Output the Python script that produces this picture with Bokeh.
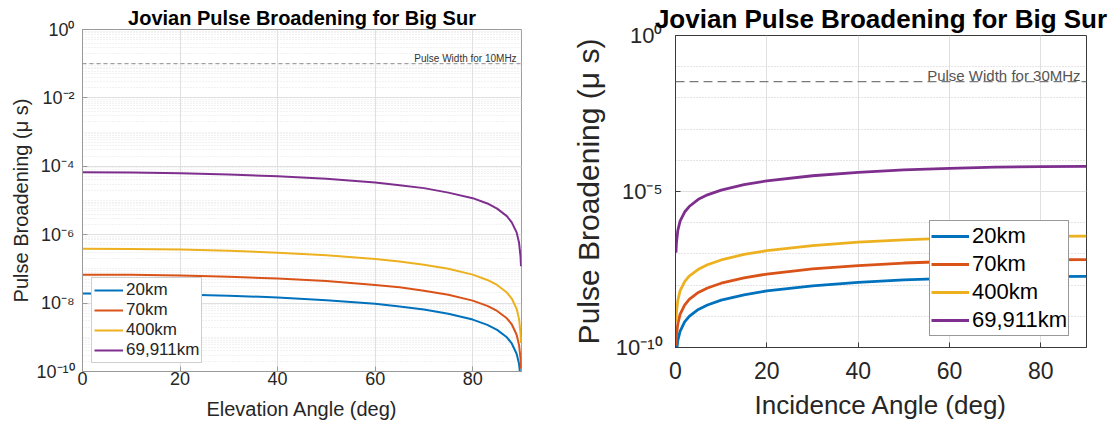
from bokeh.plotting import figure
from bokeh.layouts import row
from bokeh.models import Range1d, FixedTicker, CustomJSTickFormatter, Span, Label
from bokeh.embed import file_html
from bokeh.resources import INLINE

# ---------------- data ----------------
series_names = ["20km", "70km", "400km", "69,911km"]
series_colors = ["#0072BD", "#D95319", "#EDB120", "#7E2F8E"]

# Left panel: vs elevation angle
elev_deg = [0, 10, 20, 30, 40, 50, 60, 65, 70, 75, 80, 83, 85, 87, 88, 89, 89.5, 89.8, 89.9]
elev_20km = [1.9e-8, 1.87e-8, 1.79e-8, 1.65e-8, 1.46e-8, 1.22e-8, 9.5e-9, 8.0e-9, 6.5e-9, 4.9e-9,
             3.3e-9, 2.3e-9, 1.65e-9, 1.0e-9, 6.6e-10, 3.3e-10, 1.65e-10, 6.6e-11, 3.3e-11]
elev_70km = [6.8e-8, 6.7e-8, 6.4e-8, 5.9e-8, 5.2e-8, 4.4e-8, 3.4e-8, 2.9e-8, 2.3e-8, 1.76e-8,
             1.18e-8, 8.3e-9, 5.9e-9, 3.6e-9, 2.4e-9, 1.19e-9, 5.9e-10, 2.4e-10, 1.2e-10]
elev_400km = [3.9e-7, 3.84e-7, 3.67e-7, 3.38e-7, 2.99e-7, 2.5e-7, 1.95e-7, 1.65e-7, 1.33e-7, 1.01e-7,
              6.8e-8, 4.75e-8, 3.4e-8, 2.04e-8, 1.36e-8, 6.8e-9, 3.4e-9, 1.36e-9, 6.8e-10]
elev_69911km = [6.7e-5, 6.6e-5, 6.3e-5, 5.8e-5, 5.1e-5, 4.3e-5, 3.35e-5, 2.8e-5, 2.3e-5, 1.7e-5,
                1.17e-5, 8.2e-6, 5.8e-6, 3.5e-6, 2.3e-6, 1.17e-6, 5.8e-7, 2.3e-7, 1.2e-7]

# Right panel: vs incidence angle
inc_deg = [0.1, 0.2, 0.5, 1, 2, 3, 5, 7, 10, 15, 20, 30, 40, 50, 60, 70, 80, 90]
inc_20km = [3.3e-11, 6.6e-11, 1.66e-10, 3.3e-10, 6.6e-10, 9.9e-10, 1.66e-9, 2.3e-9, 3.3e-9, 4.9e-9,
            6.5e-9, 9.5e-9, 1.22e-8, 1.46e-8, 1.65e-8, 1.79e-8, 1.87e-8, 1.9e-8]
inc_70km = [1.15e-10, 2.3e-10, 5.7e-10, 1.15e-9, 2.3e-9, 3.5e-9, 5.8e-9, 8.1e-9, 1.15e-8, 1.7e-8,
            2.26e-8, 3.3e-8, 4.2e-8, 5.1e-8, 5.7e-8, 6.2e-8, 6.5e-8, 6.6e-8]
inc_400km = [6.5e-10, 1.29e-9, 3.2e-9, 6.5e-9, 1.29e-8, 1.94e-8, 3.2e-8, 4.5e-8, 6.4e-8, 9.6e-8,
             1.27e-7, 1.85e-7, 2.38e-7, 2.83e-7, 3.2e-7, 3.48e-7, 3.64e-7, 3.7e-7]
inc_69911km = [1.1e-7, 2.2e-7, 5.6e-7, 1.12e-6, 2.2e-6, 3.3e-6, 5.6e-6, 7.8e-6, 1.11e-5, 1.66e-5,
               2.19e-5, 3.2e-5, 4.1e-5, 4.9e-5, 5.5e-5, 6.0e-5, 6.3e-5, 6.4e-5]

pulse_width_left = 0.1        # 10 MHz
pulse_label_left = "Pulse Width for 10MHz"
pulse_width_right = 0.0333    # 30 MHz
pulse_label_right = "Pulse Width for 30MHz"

x_ticks = [0, 20, 40, 60, 80]
left_y_ticks = [1e0, 1e-2, 1e-4, 1e-6, 1e-8, 1e-10]
right_y_ticks = [1e0, 1e-5, 1e-10]

title_text = "Jovian Pulse Broadening for Big Sur"
ylabel_text = "Pulse Broadening (\u03bc s)"
left_xlabel = "Elevation Angle (deg)"
right_xlabel = "Incidence Angle (deg)"

FONT = "Liberation Sans"
TXT = "#262626"

sup_code = """
const sup = {'-':'\u207b','0':'\u2070','1':'\u00b9','2':'\u00b2','3':'\u00b3','4':'\u2074',
             '5':'\u2075','6':'\u2076','7':'\u2077','8':'\u2078','9':'\u2079'};
const e = Math.round(Math.log10(tick));
return '10' + String(e).split('').map(c => sup[c]).join('');
"""


def make_panel(fw, fh, bl, br, bt, bb, cfg, yticks, minor_y, xs, ys_list, xlabel):
    p = figure(width=fw + bl + br, height=fh + bt + bb, frame_width=fw, frame_height=fh,
               y_axis_type="log",
               x_range=Range1d(0, 90), y_range=Range1d(1e-10, 1),
               output_backend="svg", toolbar_location=None,
               min_border_left=bl, min_border_right=br, min_border_top=bt, min_border_bottom=bb)
    if "frame_align" in p.properties():
        p.frame_align = False
    p.title.text = title_text
    p.title.align = "center"
    p.title.text_font = FONT
    p.title.text_font_size = cfg["title"]
    p.title.text_font_style = "bold"
    p.title.text_color = "black"
    p.title.standoff = cfg["title_standoff"]

    yt = FixedTicker(ticks=yticks, minor_ticks=minor_y)
    p.yaxis.ticker = yt
    p.ygrid.ticker = yt
    p.xaxis.ticker = FixedTicker(ticks=x_ticks, minor_ticks=[])
    p.xgrid.ticker = FixedTicker(ticks=x_ticks, minor_ticks=[])
    p.yaxis.formatter = CustomJSTickFormatter(code=sup_code)

    for ax in (p.xaxis, p.yaxis):
        ax.axis_line_color = cfg["axis_color"]
        ax.major_tick_line_color = cfg["axis_color"]
        ax.major_tick_in = 5
        ax.major_tick_out = 0
        ax.minor_tick_line_color = None
        ax.major_label_text_font = FONT
        ax.major_label_text_color = TXT
        ax.axis_label_text_font = FONT
        ax.axis_label_text_font_style = "normal"
        ax.axis_label_text_color = TXT
    p.xaxis.major_label_text_font_size = cfg["xtick"]
    p.yaxis.major_label_text_font_size = cfg["ytick"]
    p.xaxis.axis_label_text_font_size = cfg["xlabel"]
    p.yaxis.axis_label_text_font_size = cfg["ylabel"]
    p.xaxis.axis_label = xlabel
    p.yaxis.axis_label = ylabel_text
    p.xaxis.major_label_standoff = cfg["xtick_standoff"]
    p.yaxis.major_label_standoff = cfg["ytick_standoff"]
    p.xaxis.axis_label_standoff = cfg["xlabel_standoff"]
    p.yaxis.axis_label_standoff = cfg["ylabel_standoff"]

    p.xgrid.grid_line_color = "#e0e0e0"
    p.ygrid.grid_line_color = "#e0e0e0"
    p.ygrid.minor_grid_line_color = cfg["minor_color"]
    p.ygrid.minor_grid_line_dash = "1 2"
    p.outline_line_color = cfg["axis_color"]
    p.background_fill_color = "white"

    for name, color, ys in zip(series_names, series_colors, ys_list):
        p.line(xs, ys, line_color=color, line_width=cfg["lw"], legend_label=name)
    return p


left_minor = [k * 10.0 ** n for n in range(-10, 0) for k in range(1, 10)
              if not (k == 1 and n % 2 == 0)]
right_minor = [10.0 ** n for n in range(-9, 0) if n != -5]

cfg1 = dict(title="20px", title_standoff=1, xtick="18px", ytick="18px", xlabel="20px", ylabel="20px",
            xtick_standoff=0, ytick_standoff=4, xlabel_standoff=10, ylabel_standoff=1,
            axis_color="#9a9a9a", minor_color="#e4e4e4", lw=2)
cfg2 = dict(title="26px", title_standoff=3, xtick="23px", ytick="22px", xlabel="26px", ylabel="30px",
            xtick_standoff=14, ytick_standoff=9, xlabel_standoff=8, ylabel_standoff=8,
            axis_color="#3a3a3a", minor_color="#c8c8c8", lw=2.8)

p1 = make_panel(439, 342, 82, 39, 29, 54, cfg1, left_y_ticks, left_minor, elev_deg,
                [elev_20km, elev_70km, elev_400km, elev_69911km], left_xlabel)
p2 = make_panel(411, 312, 115, 29, 35, 78, cfg2, right_y_ticks, right_minor, inc_deg,
                [inc_20km, inc_70km, inc_400km, inc_69911km], right_xlabel)

# pulse width reference lines
p1.add_layout(Span(location=pulse_width_left, dimension="width", line_color="#8c8c8c",
                   line_dash="4 3", line_width=1))
p1.add_layout(Label(x=89.0, y=pulse_width_left, text=pulse_label_left, text_align="right",
                    text_baseline="alphabetic", y_offset=5, text_font=FONT,
                    text_font_size="10px", text_color="#333333"))
p2.add_layout(Span(location=pulse_width_right, dimension="width", line_color="#7a7a7a",
                   line_dash="9 5", line_width=1.3))
p2.add_layout(Label(x=88.7, y=pulse_width_right, text=pulse_label_right, text_align="right",
                    text_baseline="alphabetic", y_offset=6, text_font=FONT,
                    text_font_size="15px", text_color="#555555"))

# legends
lg1 = p1.legend[0]
lg1.location = (9, 8)
lg1.label_text_font = FONT
lg1.label_text_font_size = "17px"
lg1.label_text_color = TXT
lg1.glyph_width = 29
lg1.glyph_height = 20
lg1.label_height = 20
lg1.label_standoff = 3
lg1.spacing = 0
lg1.padding = 2
lg1.margin = 0
lg1.border_line_color = "#a0a0a0"
lg1.background_fill_alpha = 1

lg2 = p2.legend[0]
lg2.location = (254, 11)
lg2.label_text_font = FONT
lg2.label_text_font_size = "22px"
lg2.label_text_color = "black"
lg2.glyph_width = 38
lg2.glyph_height = 28
lg2.label_height = 28
lg2.label_standoff = 3
lg2.spacing = 0
lg2.padding = 1
lg2.margin = 0
lg2.border_line_color = "#333333"
lg2.background_fill_alpha = 1

layout = row(p1, p2)
open("out.html", "w").write(file_html(layout, INLINE))
